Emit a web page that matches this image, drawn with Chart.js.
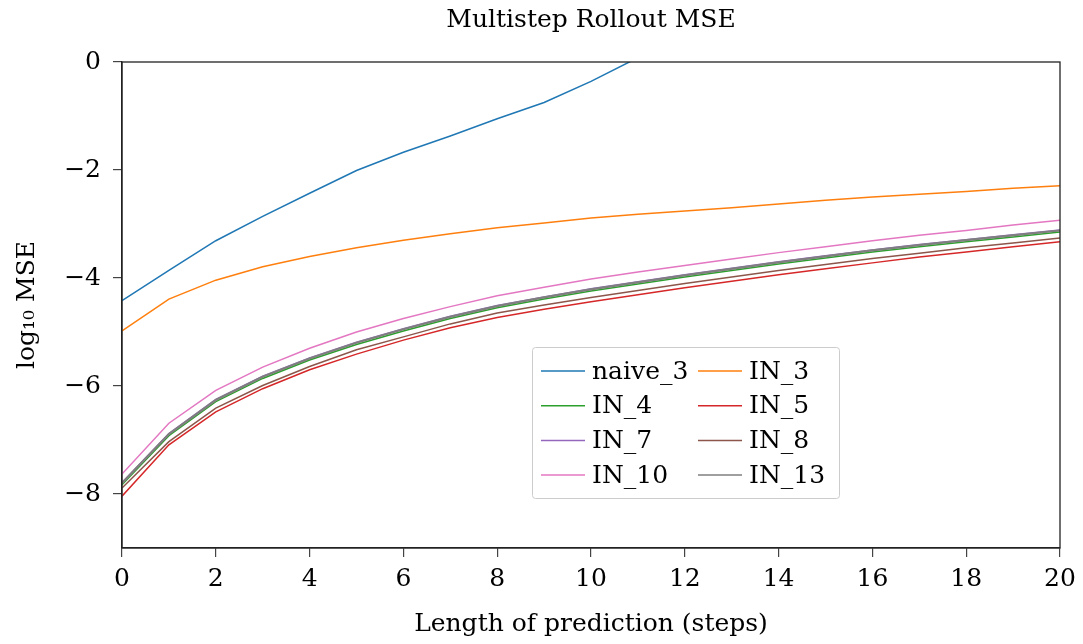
<!DOCTYPE html>
<html>
<head>
<meta charset="utf-8">
<script src="https://cdn.jsdelivr.net/npm/chart.js@4.4.0/dist/chart.umd.min.js"></script>
<style>
  html, body { margin:0; padding:0; background:#fff; }
  #wrap { width:1083px; height:644px; }
</style>
</head>
<body>
<div id="wrap"><canvas id="ch-rollout" width="1083" height="644"></canvas></div>
<script>
// ── data ──────────────────────────────────────────────────────────────────────
const steps  = [0,1,2,3,4,5,6,7,8,9,10,11,12,13,14,15,16,17,18,19,20];
const xTicks = [0,2,4,6,8,10,12,14,16,18,20];
const yTicks = [-8,-6,-4,-2,0];

const naive3 = [-4.42,-3.86,-3.31,-2.86,-2.43,-2.01,-1.67,-1.37,-1.05,-0.75,-0.36,0.08,0.50];
const in3    = [-4.98,-4.39,-4.04,-3.79,-3.60,-3.44,-3.30,-3.18,-3.07,-2.98,-2.89,-2.82,-2.76,-2.70,-2.63,-2.56,-2.50,-2.45,-2.40,-2.34,-2.29];
const in4    = [-7.83,-6.92,-6.29,-5.86,-5.52,-5.23,-4.98,-4.75,-4.55,-4.39,-4.24,-4.11,-3.98,-3.86,-3.74,-3.63,-3.52,-3.42,-3.33,-3.24,-3.15];
const in5    = [-8.04,-7.09,-6.48,-6.05,-5.70,-5.41,-5.15,-4.92,-4.73,-4.58,-4.44,-4.31,-4.18,-4.06,-3.94,-3.83,-3.72,-3.61,-3.52,-3.42,-3.33];
const in7    = [-7.79,-6.88,-6.25,-5.82,-5.48,-5.19,-4.94,-4.71,-4.51,-4.35,-4.20,-4.07,-3.94,-3.82,-3.70,-3.59,-3.48,-3.38,-3.29,-3.20,-3.11];
const in8    = [-7.89,-7.03,-6.41,-5.99,-5.64,-5.33,-5.09,-4.85,-4.65,-4.50,-4.36,-4.23,-4.10,-3.98,-3.86,-3.75,-3.64,-3.54,-3.44,-3.35,-3.26];
const in10   = [-7.63,-6.69,-6.08,-5.65,-5.30,-5.00,-4.75,-4.53,-4.33,-4.17,-4.02,-3.89,-3.77,-3.65,-3.53,-3.42,-3.31,-3.21,-3.12,-3.02,-2.93];
const in13   = [-7.80,-6.89,-6.26,-5.83,-5.49,-5.20,-4.95,-4.72,-4.52,-4.36,-4.21,-4.08,-3.95,-3.83,-3.71,-3.60,-3.49,-3.39,-3.30,-3.21,-3.12];

const SERIES = [
  { label:'naive_3', data:naive3, color:'#1f77b4', width:1.5 },
  { label:'IN_3',    data:in3,    color:'#ff7f0e', width:1.5 },
  { label:'IN_4',    data:in4,    color:'#2ca02c', width:1.5 },
  { label:'IN_5',    data:in5,    color:'#d62728', width:1.5 },
  { label:'IN_7',    data:in7,    color:'#9467bd', width:1.5 },
  { label:'IN_8',    data:in8,    color:'#8c564b', width:1.5 },
  { label:'IN_10',   data:in10,   color:'#e377c2', width:1.5 },
  { label:'IN_13',   data:in13,   color:'#7f7f7f', width:2.2 },
];

const FONT = 'DejaVu Serif, Liberation Serif, serif';
const minus = v => v < 0 ? '\u2212' + Math.abs(v) : String(v);

// frame round the plot (top + right sides like matplotlib)
const framePlugin = {
  id: 'frame',
  afterDatasetsDraw(chart) {
    const { ctx, chartArea: a } = chart;
    ctx.save();
    ctx.strokeStyle = '#222';
    ctx.lineWidth = 1.3;
    ctx.strokeRect(a.left, a.top, a.right - a.left, a.bottom - a.top);
    ctx.restore();
  }
};

// 2-column legend box inside the axes
const boxLegend = {
  id: 'boxLegend',
  afterDatasetsDraw(chart) {
    const { ctx, chartArea: a } = chart;
    const bx = a.left + 410, by = a.top + 285, bw = 307, bh = 151;
    ctx.save();
    ctx.fillStyle = 'rgba(255,255,255,0.85)';
    ctx.strokeStyle = '#cccccc';
    ctx.lineWidth = 1;
    ctx.beginPath();
    ctx.roundRect(bx + 0.5, by + 0.5, bw, bh, 3);
    ctx.fill(); ctx.stroke();
    ctx.font = '25px ' + FONT;
    ctx.textBaseline = 'middle';
    ctx.fillStyle = '#000';
    chart.data.datasets.forEach((ds, i) => {
      const col = i % 2, row = Math.floor(i / 2);
      const x = bx + 9 + col * 157, y = by + 24 + row * 34.7;
      ctx.strokeStyle = ds.borderColor;
      ctx.lineWidth = 1.5;
      ctx.beginPath(); ctx.moveTo(x, y); ctx.lineTo(x + 44, y); ctx.stroke();
      ctx.fillText(ds.label, x + 51, y + 1);
    });
    ctx.restore();
  }
};

new Chart(document.getElementById('ch-rollout').getContext('2d'), {
  type: 'line',
  data: {
    datasets: SERIES.map((s, i) => ({
      label: s.label,
      data: s.data.map((v, k) => ({ x: steps[k], y: v })),
      borderColor: s.color,
      backgroundColor: s.color,
      borderWidth: s.width,
      pointRadius: 0,
      tension: 0,
      fill: false,
      clip: 0,
      order: SERIES.length - i,
    }))
  },
  options: {
    responsive: false,
    animation: false,
    devicePixelRatio: 1,
    layout: { padding: { left:0, right:23, top:0, bottom:0 } },
    plugins: {
      legend: { display:false },
      tooltip: { enabled:false },
      title: {
        display: true, fullSize: false,
        text: 'Multistep Rollout MSE',
        color: '#000',
        font: { family: FONT, size: 25, weight: 'normal' },
        padding: { top: 5, bottom: 27 },
      },
    },
    scales: {
      x: {
        type: 'linear', min: 0, max: 20,
        afterBuildTicks: s => { s.ticks = xTicks.map(v => ({ value: v })); },
        afterFit: s => { s.height = 96; },
        ticks: { color:'#000', font:{ family: FONT, size: 25 }, padding: 7, maxRotation: 0, autoSkip: false },
        grid: { drawOnChartArea: false, tickLength: 9, color: '#444', lineWidth: 1.2 },
        border: { color: '#222', width: 1.3 },
        title: { display: true, text: 'Length of prediction (steps)', color: '#000',
                 font: { family: FONT, size: 25 }, padding: { top: 0, bottom: 5 } },
      },
      y: {
        type: 'linear', min: -9, max: 0,
        afterBuildTicks: s => { s.ticks = yTicks.map(v => ({ value: v })); },
        afterFit: s => { s.width = 122; },
        ticks: { color:'#000', font:{ family: FONT, size: 25 }, padding: 12, callback: v => minus(v) },
        grid: { drawOnChartArea: false, tickLength: 9, color: '#444', lineWidth: 1.2 },
        border: { color: '#222', width: 1.3 },
        title: { display: true, text: 'log\u2081\u2080 MSE', color: '#000',
                 font: { family: FONT, size: 25 }, padding: { top: 12, bottom: 0 } },
      },
    },
  },
  plugins: [framePlugin, boxLegend],
});
</script>
</body>
</html>
